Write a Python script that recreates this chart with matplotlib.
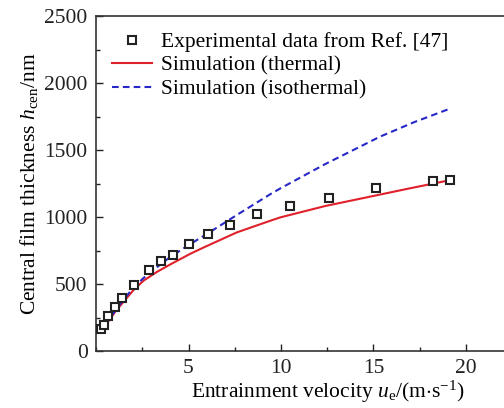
import matplotlib
matplotlib.use("Agg")
import matplotlib.pyplot as plt
from matplotlib.ticker import MultipleLocator

# Experimental data (Ref. [47])
exp_u = [0.28, 0.43, 0.64, 1.0, 1.4, 2.03, 2.89, 3.49, 4.14, 5.0, 6.05, 7.27,
         8.71, 10.48, 12.61, 15.13, 18.19, 19.13]
exp_h = [162, 194, 261, 328, 398, 495, 602, 669, 718, 796, 870, 940,
         1022, 1082, 1141, 1213, 1268, 1276]

# Simulation (thermal)
th_u = [0.28, 0.59, 1.04, 1.49, 2.03, 2.57, 3.29, 4.0, 5.09, 5.81, 7.61,
        9.42, 9.96, 12.39, 14.82, 17.0, 19.14]
th_h = [136, 206, 293, 368, 455, 525, 590, 645, 725, 772, 885,
        972, 997, 1082, 1152, 1215, 1275]

# Simulation (isothermal)
iso_u = [0.28, 0.59, 1.04, 1.49, 2.03, 2.57, 3.29, 4.0, 5.0, 6.05, 7.61,
         9.42, 9.96, 12.39, 15.36, 17.2, 19.14]
iso_h = [136, 213, 300, 385, 472, 545, 625, 700, 790, 878, 1015,
         1170, 1213, 1395, 1600, 1708, 1809]

plt.rcParams['font.family'] = ['Liberation Serif', 'DejaVu Serif']
plt.rcParams['mathtext.fontset'] = 'custom'
plt.rcParams['mathtext.rm'] = 'Liberation Serif'
plt.rcParams['mathtext.it'] = 'Liberation Serif:italic'

FS = 15.5
fig = plt.figure(figsize=(5.04, 4.08), dpi=100)
ax = fig.add_axes([96 / 504, 57 / 408, 462.5 / 504, 335 / 408])

ax.plot(exp_u, exp_h, linestyle='none', marker='s', markersize=6.2,
        markerfacecolor='white', markeredgecolor='#222222', markeredgewidth=1.5,
        label='Experimental data from Ref. [47]', zorder=3)
ax.plot(th_u, th_h, color='#e0202a', linewidth=1.5, label='Simulation (thermal)')
ax.plot(iso_u, iso_h, color='#2828c8', linewidth=1.5, linestyle=(0, (3.2, 2.0)),
        label='Simulation (isothermal)')

ax.set_xlim(0, 25)
ax.set_ylim(0, 2500)
ax.xaxis.set_major_locator(MultipleLocator(5))
ax.xaxis.set_minor_locator(MultipleLocator(2.5))
ax.yaxis.set_major_locator(MultipleLocator(500))
ax.yaxis.set_minor_locator(MultipleLocator(250))
ax.set_xticks([5, 10, 15, 20])
ax.tick_params(which='both', direction='in', labelsize=FS, width=1, colors='#222222')
ax.tick_params(axis='y', pad=6)
ax.tick_params(axis='x', pad=6)
ax.tick_params(which='major', length=5)
ax.tick_params(which='minor', length=3)
for s in ax.spines.values():
    s.set_linewidth(1.2)
    s.set_color('#333333')

ax.set_xlabel(r'Entrainment velocity $u_{\rm e}$/(m$\cdot$s$^{-1}$)', fontsize=FS, labelpad=0.5)
ax.set_ylabel(r'Central film thickness $h_{\rm cen}$/nm', fontsize=FS, labelpad=3)

ax.legend(loc='upper left', frameon=False, fontsize=FS, handlelength=1.86,
          handletextpad=0.42, labelspacing=0.15, borderaxespad=0.0,
          borderpad=0.4, bbox_to_anchor=(7.4 / 462.5, 1.0 - 7.8 / 335))

fig.savefig('out.png', dpi=100)
